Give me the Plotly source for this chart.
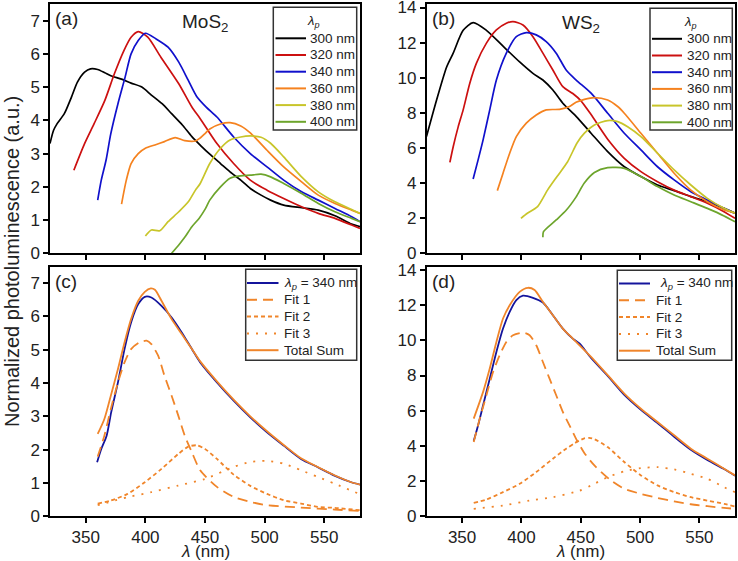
import plotly.graph_objects as go

FONT = "Liberation Sans, Arial, sans-serif"

# ---------------- (a) MoS2 excitation-dependent PL ----------------
a_wl_300 = [320, 323, 326, 332, 338, 343, 349, 354, 360, 366, 371, 380, 388, 397, 405, 414, 422, 431, 439, 447, 455, 463, 471, 480, 488, 497, 505, 516, 531, 545, 559, 573, 580]
a_pl_300 = [3.3, 3.7, 3.9, 4.2, 4.7, 5.15, 5.45, 5.55, 5.53, 5.43, 5.34, 5.24, 5.12, 5.0, 4.76, 4.5, 4.2, 3.86, 3.51, 3.22, 2.95, 2.7, 2.45, 2.2, 1.95, 1.75, 1.6, 1.45, 1.37, 1.3, 1.13, 0.88, 0.8]
a_wl_320 = [340, 349, 357, 366, 374, 382, 388, 394, 402, 413, 428, 439, 446, 460, 474, 488, 502, 516, 531, 545, 559, 573, 580]
a_pl_320 = [2.5, 3.3, 3.9, 4.6, 5.4, 6.1, 6.5, 6.67, 6.5, 5.9, 5.1, 4.4, 4.05, 3.3, 2.7, 2.2, 1.9, 1.65, 1.4, 1.2, 1.05, 0.85, 0.75]
a_wl_340 = [360, 363, 367, 371, 377, 383, 388, 394, 400, 409, 419, 428, 436, 443, 451, 460, 474, 488, 502, 516, 531, 545, 559, 573, 580]
a_pl_340 = [1.6, 2.2, 2.8, 3.6, 4.5, 5.3, 6.0, 6.4, 6.62, 6.45, 6.2, 5.75, 5.2, 4.72, 4.4, 4.1, 3.5, 3.0, 2.6, 2.2, 1.85, 1.6, 1.35, 1.1, 0.95]
a_wl_360 = [380, 384, 388, 394, 400, 408, 416, 425, 433, 442, 446, 450, 454, 463, 471, 480, 488, 502, 516, 531, 545, 559, 573, 580]
a_pl_360 = [1.48, 2.2, 2.7, 3.0, 3.16, 3.26, 3.36, 3.48, 3.39, 3.38, 3.47, 3.6, 3.74, 3.89, 3.93, 3.83, 3.62, 3.1, 2.6, 2.15, 1.75, 1.5, 1.3, 1.2]
a_wl_380 = [400, 405, 412, 419, 428, 436, 442, 446, 454, 463, 471, 480, 488, 497, 505, 516, 531, 545, 559, 573, 580]
a_pl_380 = [0.52, 0.7, 0.68, 0.95, 1.25, 1.55, 1.9, 2.1, 2.7, 3.16, 3.41, 3.5, 3.53, 3.49, 3.31, 2.9, 2.3, 1.85, 1.55, 1.32, 1.2]
a_wl_400 = [422, 428, 433, 439, 445, 450, 454, 463, 471, 480, 488, 497, 505, 516, 531, 545, 559, 573, 580]
a_pl_400 = [0.0, 0.25, 0.48, 0.8, 1.05, 1.32, 1.6, 2.0, 2.26, 2.33, 2.35, 2.38, 2.3, 2.1, 1.8, 1.5, 1.25, 1.05, 0.95]

# ---------------- (b) WS2 excitation-dependent PL ----------------
b_wl_300 = [320, 328.5, 336.9, 342.5, 350.9, 359.3, 370.5, 384.5, 398.5, 409.7, 418.1, 426.5, 434.9, 446.1, 458.7, 472.7, 486.7, 500.7, 514.7, 528.7, 542.8, 556.7, 570.8, 580]
b_pl_300 = [6.65, 8.73, 10.6, 11.4, 12.7, 13.14, 12.7, 11.8, 10.9, 10.25, 9.87, 9.3, 8.55, 7.8, 6.84, 5.79, 4.93, 4.37, 3.89, 3.57, 3.23, 2.94, 2.56, 2.28]
b_wl_320 = [339.7, 342.5, 346.7, 350.9, 356.5, 362.1, 370.5, 378.9, 387.3, 392.9, 401.3, 409.7, 418.1, 426.5, 434.9, 443.3, 450, 458.7, 472.7, 486.7, 500.7, 514.7, 528.7, 542.8, 556.7, 570.8, 580]
b_pl_320 = [5.18, 6.07, 7.2, 8.17, 9.69, 10.83, 11.97, 12.72, 13.1, 13.2, 13.0, 12.34, 11.4, 10.44, 9.49, 9.1, 8.7, 7.9, 6.5, 5.41, 4.65, 4.08, 3.6, 3.23, 2.85, 2.37, 1.99]
b_wl_340 = [359.3, 363.5, 367.7, 373.3, 378.9, 387.3, 395.7, 404.1, 412.5, 420.9, 429.3, 437.7, 446.1, 458.7, 472.7, 486.7, 500.7, 514.7, 528.7, 542.8, 556.7, 570.8, 580]
b_pl_340 = [4.23, 5.32, 6.46, 8.17, 9.87, 11.4, 12.34, 12.57, 12.44, 12.06, 11.4, 10.44, 9.87, 9.12, 7.98, 6.84, 5.89, 4.93, 4.18, 3.51, 3.04, 2.56, 2.28]
b_wl_360 = [379.7, 384.5, 390.1, 395.7, 404.1, 412.5, 420.9, 432.1, 440.5, 446, 453.1, 461.5, 472.7, 481.1, 486.7, 500.7, 514.7, 528.7, 542.8, 556.7, 570.8, 580]
b_pl_360 = [3.57, 4.56, 5.7, 6.65, 7.41, 7.88, 8.17, 8.2, 8.36, 8.6, 8.77, 8.87, 8.73, 8.36, 7.98, 6.84, 5.7, 4.56, 3.6, 2.94, 2.47, 2.3]
b_wl_380 = [399.6, 405, 413.6, 422, 430, 438.8, 447, 453.1, 461.5, 472.7, 481.1, 489.5, 500.7, 514.7, 528.7, 542.8, 556.7, 570.8, 580]
b_pl_380 = [1.99, 2.28, 2.66, 3.6, 4.37, 5.2, 6.3, 6.84, 7.31, 7.56, 7.5, 7.21, 6.65, 5.7, 4.75, 3.89, 3.13, 2.56, 2.28]
b_wl_400 = [418.1, 418.6, 429.3, 437.7, 446, 453, 461.5, 472.7, 486.7, 500.7, 514.7, 528.7, 542.8, 556.7, 570.8, 580]
b_pl_400 = [0.91, 1.23, 1.9, 2.45, 3.2, 4.0, 4.6, 4.88, 4.84, 4.37, 3.8, 3.32, 2.94, 2.56, 2.13, 1.8]

# ---------------- (c) MoS2 fit, lambda_p = 340 nm ----------------
c_wl_data = [359.5, 363, 367.5, 371.3, 377, 382.5, 388, 394, 399.5, 405, 413.5, 422, 430.5, 439, 446, 460, 474, 488, 502, 516, 530.5, 544.6, 558.6, 572.7, 580]
c_pl_data = [1.62, 2.02, 2.42, 3.12, 4.02, 5.02, 5.82, 6.37, 6.59, 6.57, 6.32, 5.97, 5.52, 5.02, 4.62, 4.02, 3.47, 2.97, 2.52, 2.12, 1.72, 1.47, 1.22, 1.02, 0.95]
c_wl_fit1 = [360, 365.6, 371, 377, 382.5, 388, 395, 401, 405, 410.7, 416, 422, 427.6, 433, 439, 446, 460, 474, 488, 502, 530.5, 558.6, 580]
c_pl_fit1 = [1.79, 2.42, 3.22, 4.02, 4.62, 5.02, 5.22, 5.27, 5.17, 4.82, 4.22, 3.62, 3.02, 2.42, 1.92, 1.38, 0.88, 0.58, 0.43, 0.33, 0.26, 0.2, 0.16]
c_wl_fit2 = [360, 371, 385, 399.5, 413.5, 427.6, 436, 443, 450, 460, 474, 488, 502, 516, 530.5, 544.6, 558.6, 580]
c_pl_fit2 = [0.38, 0.47, 0.67, 1.02, 1.42, 1.87, 2.09, 2.13, 2.02, 1.72, 1.25, 0.91, 0.67, 0.48, 0.38, 0.28, 0.25, 0.18]
c_wl_fit3 = [360, 385, 405, 427.6, 450, 474, 488, 502, 516, 530.5, 544.6, 558.6, 580]
c_pl_fit3 = [0.33, 0.57, 0.72, 0.92, 1.12, 1.48, 1.63, 1.66, 1.58, 1.38, 1.18, 0.98, 0.66]
c_wl_sum = [360, 365.6, 371, 377, 382.5, 388, 394, 399.5, 404.5, 408, 413.5, 422, 430.5, 439, 446, 460, 474, 488, 502, 516, 530.5, 544.6, 558.6, 572.7, 580]
c_pl_sum = [2.47, 2.92, 3.62, 4.42, 5.22, 5.92, 6.47, 6.74, 6.84, 6.8, 6.47, 5.92, 5.47, 5.02, 4.65, 4.05, 3.5, 3.0, 2.55, 2.14, 1.74, 1.48, 1.23, 1.02, 0.95]

# ---------------- (d) WS2 fit, lambda_p = 340 nm ----------------
d_wl_data = [359.8, 363.5, 367.7, 373.3, 378.9, 384.5, 390.1, 395.7, 401.3, 409.7, 418.1, 426.5, 434.9, 443.3, 448.9, 458.7, 472.7, 486.7, 500.7, 514.7, 528.7, 542.8, 556.7, 570.8, 580]
d_pl_data = [4.27, 5.17, 6.31, 7.82, 9.34, 10.67, 11.62, 12.29, 12.54, 12.42, 12.15, 11.43, 10.67, 10.1, 9.82, 9.0, 7.98, 6.9, 6.05, 5.3, 4.52, 3.78, 3.2, 2.68, 2.3]
d_wl_fit1 = [359.8, 364.9, 370.5, 376.1, 381.7, 387.3, 392.9, 401.3, 406.9, 412.5, 418.1, 423.7, 429.3, 434.9, 440.5, 446.1, 453, 461.5, 475.5, 486.7, 500.7, 514.7, 528.7, 542.8, 556.7, 570.8, 580]
d_pl_fit1 = [4.22, 5.55, 6.88, 8.2, 9.16, 9.91, 10.29, 10.44, 10.29, 9.72, 8.77, 7.82, 6.88, 5.93, 5.17, 4.4, 3.6, 2.89, 2.03, 1.56, 1.27, 1.04, 0.84, 0.68, 0.57, 0.47, 0.42]
d_wl_fit2 = [359.8, 370.5, 384.5, 398.5, 412.5, 426.5, 437.7, 444.7, 448.9, 453, 457, 461.5, 472.7, 486.7, 500.7, 514.7, 528.7, 542.8, 556.7, 570.8, 580]
d_pl_fit2 = [0.76, 0.95, 1.37, 1.84, 2.51, 3.27, 3.84, 4.15, 4.3, 4.43, 4.45, 4.38, 3.93, 3.08, 2.32, 1.75, 1.37, 1.08, 0.89, 0.7, 0.55]
d_wl_fit3 = [359.8, 384.5, 406.9, 426.5, 448.9, 458.7, 472.7, 486.7, 500.7, 514.7, 528.7, 542.8, 556.7, 570.8, 580]
d_pl_fit3 = [0.42, 0.61, 0.89, 1.08, 1.45, 1.75, 2.22, 2.55, 2.73, 2.79, 2.66, 2.41, 2.13, 1.65, 1.37]
d_wl_sum = [359.8, 367.7, 373.3, 378.9, 384.5, 390.1, 398.5, 405.5, 411.1, 418.1, 426.5, 434.9, 443.3, 458.7, 472.7, 486.7, 500.7, 514.7, 528.7, 542.8, 556.7, 570.8, 580]
d_pl_sum = [5.55, 7.07, 8.4, 9.91, 11.24, 12.0, 12.76, 12.99, 12.86, 12.19, 11.43, 10.67, 10.1, 9.06, 8.02, 6.97, 6.11, 5.36, 4.6, 3.84, 3.27, 2.7, 2.32]

x_ticks = [350, 400, 450, 500, 550]
exc_labels = ["300 nm", "320 nm", "340 nm", "360 nm", "380 nm", "400 nm"]
exc_colors = ["#000000", "#cc1010", "#1010cc", "#f5821f", "#c8c52a", "#6da52c"]
fit_labels = ["<i>λ</i><sub><i>p</i></sub> = 340 nm", "Fit 1", "Fit 2", "Fit 3", "Total Sum"]
DATA_BLUE = "#14149c"
FIT_ORANGE = "#f0852a"
fit_colors = [DATA_BLUE, FIT_ORANGE, FIT_ORANGE, FIT_ORANGE, FIT_ORANGE]
fit_dashes = ["solid", "10px,6px", "4px,3px", "2px,7px", "solid"]

panel_a = [(a_wl_300, a_pl_300), (a_wl_320, a_pl_320), (a_wl_340, a_pl_340),
           (a_wl_360, a_pl_360), (a_wl_380, a_pl_380), (a_wl_400, a_pl_400)]
panel_b = [(b_wl_300, b_pl_300), (b_wl_320, b_pl_320), (b_wl_340, b_pl_340),
           (b_wl_360, b_pl_360), (b_wl_380, b_pl_380), (b_wl_400, b_pl_400)]
panel_c = [(c_wl_data, c_pl_data), (c_wl_fit1, c_pl_fit1), (c_wl_fit2, c_pl_fit2),
           (c_wl_fit3, c_pl_fit3), (c_wl_sum, c_pl_sum)]
panel_d = [(d_wl_data, d_pl_data), (d_wl_fit1, d_pl_fit1), (d_wl_fit2, d_pl_fit2),
           (d_wl_fit3, d_pl_fit3), (d_wl_sum, d_pl_sum)]

fig = go.Figure()

for (panel, xa, ya) in [(panel_a, "x", "y"), (panel_b, "x2", "y2")]:
    for (wl, pl), name, col in zip(panel, exc_labels, exc_colors):
        fig.add_trace(go.Scatter(x=wl, y=pl, mode="lines", name=name, xaxis=xa, yaxis=ya,
                                 showlegend=False,
                                 line=dict(color=col, width=1.7, shape="spline", smoothing=0.7)))

for (panel, xa, ya) in [(panel_c, "x3", "y3"), (panel_d, "x4", "y4")]:
    for (wl, pl), name, col, dsh in zip(panel, fit_labels, fit_colors, fit_dashes):
        fig.add_trace(go.Scatter(x=wl, y=pl, mode="lines", name=name, xaxis=xa, yaxis=ya,
                                 showlegend=False,
                                 line=dict(color=col, width=1.8, dash=dsh, shape="spline", smoothing=0.7)))

W, H = 738.0, 561.0
L0, L1 = 50 / W, 360 / W
R0, R1 = 426.5 / W, 735 / W
T0, T1 = (H - 253.3) / H, (H - 4) / H
B0, B1 = (H - 516.2) / H, (H - 266.5) / H

def xax(dom, labels, anchor):
    return dict(domain=dom, anchor=anchor, range=[320, 580], tickvals=x_ticks, automargin=False,
                showticklabels=labels, ticks="outside", ticklen=5, tickwidth=1.5, tickcolor="black",
                ticklabeloverflow="allow",
                showline=True, linecolor="black", linewidth=1.5, mirror=True,
                showgrid=False, zeroline=False, tickfont=dict(size=17, color="#222", family=FONT))

def yax(dom, rng, dt, anchor):
    return dict(domain=dom, anchor=anchor, range=rng, dtick=dt, ticks="outside", ticklen=5, tickwidth=1.5,
                automargin=False, ticklabeloverflow="allow",
                tickcolor="black", showline=True, linecolor="black", linewidth=1.5, mirror=True,
                showgrid=False, zeroline=False, tickfont=dict(size=17, color="#222", family=FONT))

fig.update_layout(
    width=738, height=561, margin=dict(l=0, r=0, t=0, b=0, autoexpand=False),
    paper_bgcolor="white", plot_bgcolor="white", showlegend=False,
    font=dict(family=FONT, color="#222"),
    xaxis=xax([L0, L1], False, "y"), yaxis=yax([T0, T1], [0, 7.5], 1, "x"),
    xaxis2=xax([R0, R1], False, "y2"), yaxis2=yax([T0, T1], [0, 14.2], 2, "x2"),
    xaxis3=xax([L0, L1], True, "y3"), yaxis3=yax([B0, B1], [0, 7.5], 1, "x3"),
    xaxis4=xax([R0, R1], True, "y4"), yaxis4=yax([B0, B1], [0, 14.2], 2, "x4"),
)

ann = []
shapes = []

def px(x):
    return x / W

def py(y):
    return 1 - y / H

def txt(x, y, s, size, xanchor="left", angle=0, color="#222"):
    ann.append(dict(x=px(x), y=py(y), xref="paper", yref="paper", text=s, showarrow=False,
                    xanchor=xanchor, yanchor="middle", textangle=angle,
                    font=dict(size=size, family=FONT, color=color)))

def legend_box(x0, y0, x1, y1, items, line_x0, line_x1, text_x, y_first, step, title=None, title_x=None):
    shapes.append(dict(type="rect", xref="paper", yref="paper", x0=px(x0), x1=px(x1), y0=py(y1), y1=py(y0),
                       line=dict(color="#333", width=1.5), fillcolor="white", layer="above"))
    if title:
        txt(title_x, y0 + 14, title, 13, "center")
    for i, (label, col, dsh, tx) in enumerate(items):
        yy = y_first + i * step
        shapes.append(dict(type="line", xref="paper", yref="paper", x0=px(line_x0), x1=px(line_x1),
                           y0=py(yy), y1=py(yy), line=dict(color=col, width=2, dash=dsh), layer="above"))
        txt(tx if tx is not None else text_x, yy, label, 13.5)

items_exc = [(lab, col, "solid", None) for lab, col in zip(exc_labels, exc_colors)]
legend_box(273.3, 7.3, 356.7, 130, items_exc, 275.5, 306, 308, 38.3, 16.7,
           "<i>λ<sub>p</sub></i>", 313)
legend_box(650, 8.3, 732.3, 130, items_exc, 652, 682, 684.5, 38.8, 16.7,
           "<i>λ<sub>p</sub></i>", 690)

items_fit_c = [(lab, col, dsh, None) for lab, col, dsh in zip(fit_labels, fit_colors, fit_dashes)]
legend_box(245.7, 269.3, 356.7, 360.3, items_fit_c, 247, 278.5, 281.5, 283, 16.8)
items_fit_d = [(lab, col, dsh, (657.5 if i == 0 else 653.5))
               for i, (lab, col, dsh) in enumerate(zip(fit_labels, fit_colors, fit_dashes))]
legend_box(617.3, 270.3, 731.7, 360.3, items_fit_d, 619, 650, 653.5, 283.5, 16.8)

txt(53, 19, "(a)", 19)
txt(430, 19, "(b)", 19)
txt(53, 281.5, "(c)", 19)
txt(430, 281.5, "(d)", 19)
txt(205, 23, "MoS<sub>2</sub>", 19, "center")
txt(581, 24, "WS<sub>2</sub>", 19, "center")
txt(205, 551, "<i>λ</i> (nm)", 17, "center")
txt(580, 551, "<i>λ</i> (nm)", 17, "center")
txt(12, 262, "Normalized photoluminescence (a.u.)", 20, "center", -90)

fig.update_layout(annotations=ann, shapes=shapes)

fig.write_html("out.html")
